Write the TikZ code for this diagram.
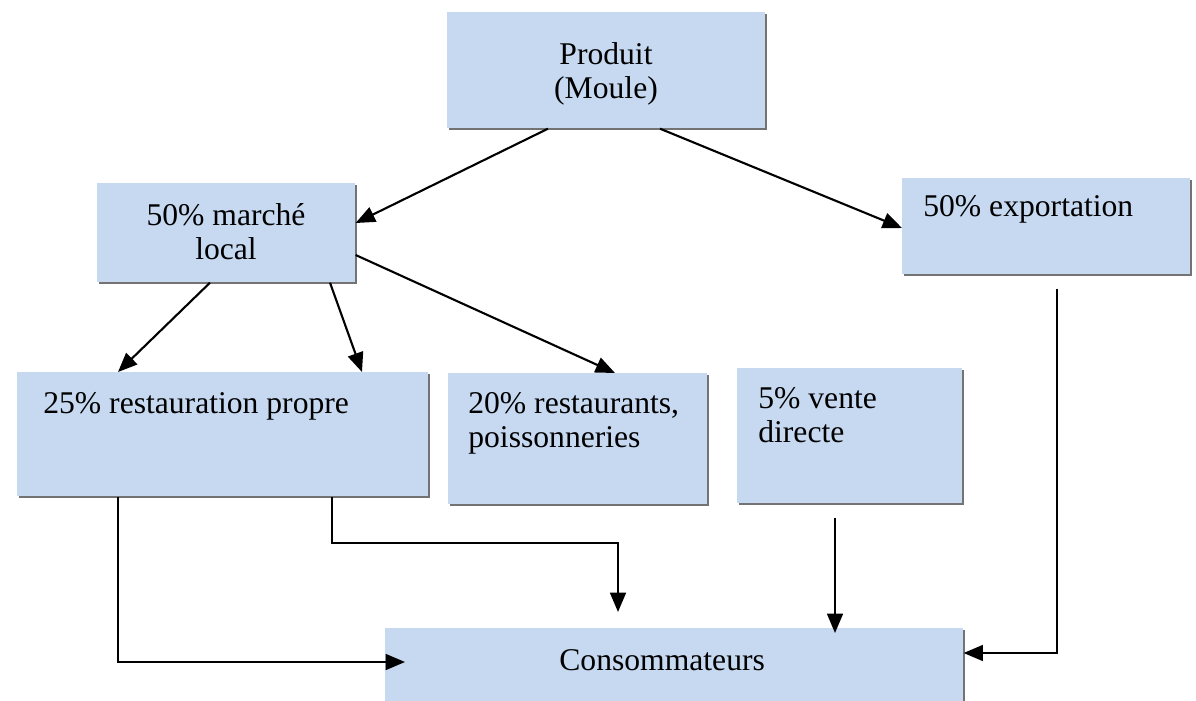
\documentclass[tikz,border=0pt]{standalone}
\usepackage{fontspec}
\setmainfont{Liberation Serif}
\usetikzlibrary{arrows.meta,shadows,calc}
\definecolor{boxblue}{RGB}{198,217,241}

\begin{document}
\begin{tikzpicture}[x=0.02cm,y=-0.02cm]
    \tikzstyle{every node}+=[inner sep=0pt]
    \tikzstyle{box}=[fill=boxblue, anchor=north west, drop shadow={shadow xshift=0.04cm, shadow yshift=-0.04cm, fill=black!55, opacity=1}]
    \tikzstyle{txt}=[anchor=north west, align=left, font=\fontsize{18}{19.5}\selectfont]
    \tikzstyle{link}=[black, line width=1.2pt, -{Triangle[length=11pt,width=9pt]}]
    \useasboundingbox (0,0) rectangle (1196,700);
    \node [box, minimum width=6.36cm, minimum height=2.32cm] (prod) at (447,12) {};
    \node [box, minimum width=5.16cm, minimum height=1.98cm] (local) at (97,183) {};
    \node [box, minimum width=5.76cm, minimum height=1.92cm] (export) at (902,178) {};
    \node [box, minimum width=8.22cm, minimum height=2.48cm] (rest) at (17,372) {};
    \node [box, minimum width=5.18cm, minimum height=2.62cm] (resto) at (448,373) {};
    \node [box, minimum width=4.5cm, minimum height=2.7cm] (vente) at (737,368) {};
    \node [box, minimum width=11.56cm, minimum height=1.8cm] (conso) at (385,628) {};
    \node [txt, anchor=north, align=center] (tprod) at (606,42) {Produit\\(Moule)};
    \node [txt, anchor=north, align=center] (tlocal) at (226,203) {50\% marché\\local};
    \node [txt] (texport) at (923,195) {50\% exportation};
    \node [txt] (trest) at (43,392) {25\% restauration propre};
    \node [txt] (tresto) at (468,392) {20\% restaurants,\\poissonneries};
    \node [txt] (tvente) at (758,387) {5\% vente\\directe};
    \node [txt] (tconso) at (559,649) {Consommateurs};
    \draw [link] ($(prod.south west)+(101,0)$) -- ($(local.north east)+(0,40)$);
    \draw [link] ($(prod.south west)+(213,0)$) -- ($(export.north west)+(0,50)$);
    \draw [link] ($(local.south west)+(113,0)$) -- ($(rest.north west)+(101,0)$);
    \draw [link] ($(local.south west)+(233,0)$) -- ($(rest.north west)+(345,0)$);
    \draw [link] ($(local.north east)+(0,72)$) -- ($(resto.north west)+(167,0)$);
    \draw [link] ($(export.south west)+(155,14)$) |- ($(conso.north east)+(0,25)$);
    \draw [link] ($(rest.south west)+(101,0)$) |- ($(conso.north west)+(20,34)$);
    \draw [link] ($(rest.south west)+(315,0)$) -- ++(0,46) -| ($(conso.north west)+(233,-16)$);
    \draw [link] ($(vente.south west)+(98,14)$) -- ($(conso.north west)+(450,5)$);
\end{tikzpicture}
\end{document}
